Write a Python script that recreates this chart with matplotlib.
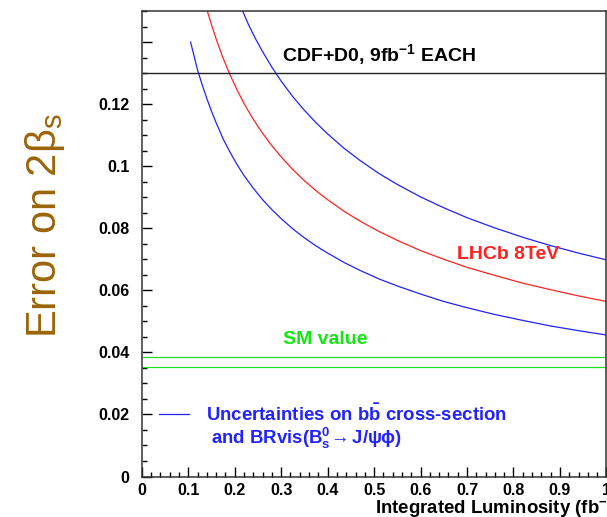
import matplotlib
matplotlib.use("Agg")
import matplotlib.pyplot as plt
from matplotlib.ticker import MultipleLocator, FuncFormatter

plt.rcParams["font.family"] = ["Liberation Sans", "DejaVu Sans"]
plt.rcParams["mathtext.fontset"] = "custom"
plt.rcParams["mathtext.rm"] = "Liberation Sans"
plt.rcParams["mathtext.bf"] = "Liberation Sans:bold"
plt.rcParams["mathtext.it"] = "Liberation Sans:italic"
plt.rcParams["mathtext.default"] = "bf"

# --- values ---
lumi_low = [0.105, 0.11, 0.12, 0.13, 0.14, 0.15, 0.16, 0.175, 0.19, 0.205, 0.22, 0.24, 0.26,
            0.28, 0.30, 0.325, 0.35, 0.375, 0.40, 0.435, 0.47, 0.51, 0.55, 0.60, 0.65, 0.70,
            0.76, 0.82, 0.88, 0.94, 1.0]
err_low = [0.140, 0.137, 0.131, 0.1262, 0.1218, 0.1177, 0.1140, 0.1088, 0.1045, 0.1005, 0.0970,
           0.0929, 0.0892, 0.0860, 0.0831, 0.0798, 0.0769, 0.0743, 0.0720, 0.0690, 0.0664,
           0.0637, 0.0614, 0.0588, 0.0564, 0.0544, 0.0522, 0.0503, 0.0485, 0.0470, 0.0456]

lumi_lhcb = [0.141, 0.15, 0.16, 0.175, 0.19, 0.205, 0.22, 0.24, 0.26, 0.28, 0.30, 0.325, 0.35,
             0.375, 0.40, 0.435, 0.47, 0.51, 0.55, 0.60, 0.65, 0.70, 0.76, 0.82, 0.88, 0.94, 1.0]
err_lhcb = [0.150, 0.1456, 0.141, 0.1348, 0.1294, 0.1246, 0.1202, 0.1151, 0.1106, 0.1066, 0.1030,
            0.0989, 0.0953, 0.0921, 0.0892, 0.0855, 0.0823, 0.0790, 0.0761, 0.0728, 0.0700,
            0.0674, 0.0648, 0.0623, 0.0602, 0.0582, 0.0564]

lumi_high = [0.217, 0.23, 0.245, 0.26, 0.28, 0.30, 0.325, 0.35, 0.375, 0.40, 0.435, 0.47, 0.51,
             0.55, 0.60, 0.65, 0.70, 0.76, 0.82, 0.88, 0.94, 1.0]
err_high = [0.150, 0.1455, 0.1410, 0.1369, 0.1319, 0.1274, 0.1224, 0.1180, 0.1140, 0.1104,
            0.1058, 0.1018, 0.0977, 0.0941, 0.0901, 0.0866, 0.0834, 0.0801, 0.0771, 0.0744,
            0.0720, 0.0698]

cdf_d0 = 0.13
sm_band = [0.0353, 0.0385]

blue = "#2222ff"
red = "#ff2222"
green = "#22dd22"

fig = plt.figure(figsize=(6.07, 5.17), dpi=100)
ax = fig.add_axes([0.2336, 0.0783, 0.7654, 0.9004])

l_low, = ax.plot(lumi_low, err_low, color=blue, lw=0.9)
ax.plot(lumi_lhcb, err_lhcb, color=red, lw=0.9)
ax.plot(lumi_high, err_high, color=blue, lw=0.9)
ax.axhline(cdf_d0, color="#222222", lw=1.0)
for v in sm_band:
    ax.axhline(v, color=green, lw=0.9)

ax.set_xlim(0, 1)
ax.set_ylim(0, 0.15)

ax.xaxis.set_major_locator(MultipleLocator(0.1))
ax.xaxis.set_minor_locator(MultipleLocator(0.02))
ax.yaxis.set_major_locator(MultipleLocator(0.02))
ax.yaxis.set_minor_locator(MultipleLocator(0.005))
ax.xaxis.set_major_formatter(FuncFormatter(lambda v, p: f"{v:g}"))
ax.yaxis.set_major_formatter(FuncFormatter(lambda v, p: "" if v > 0.13 else f"{v:g}"))
ax.tick_params(which="both", direction="in", top=False, right=False, width=1.0)
ax.tick_params(which="major", length=7)
ax.tick_params(which="minor", length=3.5)
ax.tick_params(axis="y", pad=9, labelsize=11.5)
ax.tick_params(axis="x", pad=5, labelsize=11.5)
for lab in ax.get_xticklabels() + ax.get_yticklabels():
    lab.set_fontweight("bold")
for s in ax.spines.values():
    s.set_linewidth(1.1)
    s.set_color("#333333")

ax.text(0.3016, 0.1337, r"CDF+D0, 9fb$^{-1}$ EACH", fontsize=14, fontweight="bold",
        va="baseline", ha="left")
ax.text(0.678, 0.0700, "LHCb 8TeV", fontsize=14, fontweight="bold", color=red,
        va="baseline", ha="left")
ax.text(0.3047, 0.0428, "SM value", fontsize=14, fontweight="bold", color="#11e811",
        va="baseline", ha="left")

leg = ax.legend([l_low], [r"Uncertainties on b$\bar{b}$ cross-section"],
                loc="center left", bbox_to_anchor=(0.0377, 0.134), frameon=False,
                borderpad=0, borderaxespad=0, handlelength=1.6, handletextpad=0.9,
                prop={"size": 13.4, "weight": "bold"})
for t in leg.get_texts():
    t.set_color(blue)
ax.text(0.149, 0.0692, r"and BRvis(B$_s^0\!\rightarrow$J/$\psi\phi$)", transform=ax.transAxes,
        fontsize=13.4, fontweight="bold", color=blue, va="baseline", ha="left")

ax.text(0.502, -0.0685, r"Integrated Luminosity (fb$^{-1}$)", transform=ax.transAxes,
        fontsize=13.4, fontweight="bold", va="center", ha="left", clip_on=False)
ax.text(-0.208, 0.540, r"Error on 2β$_{\mathrm{s}}$", transform=ax.transAxes,
        fontsize=30, color="#9b6508", rotation=90, va="center", ha="center")

fig.savefig("out.png", dpi=100)
